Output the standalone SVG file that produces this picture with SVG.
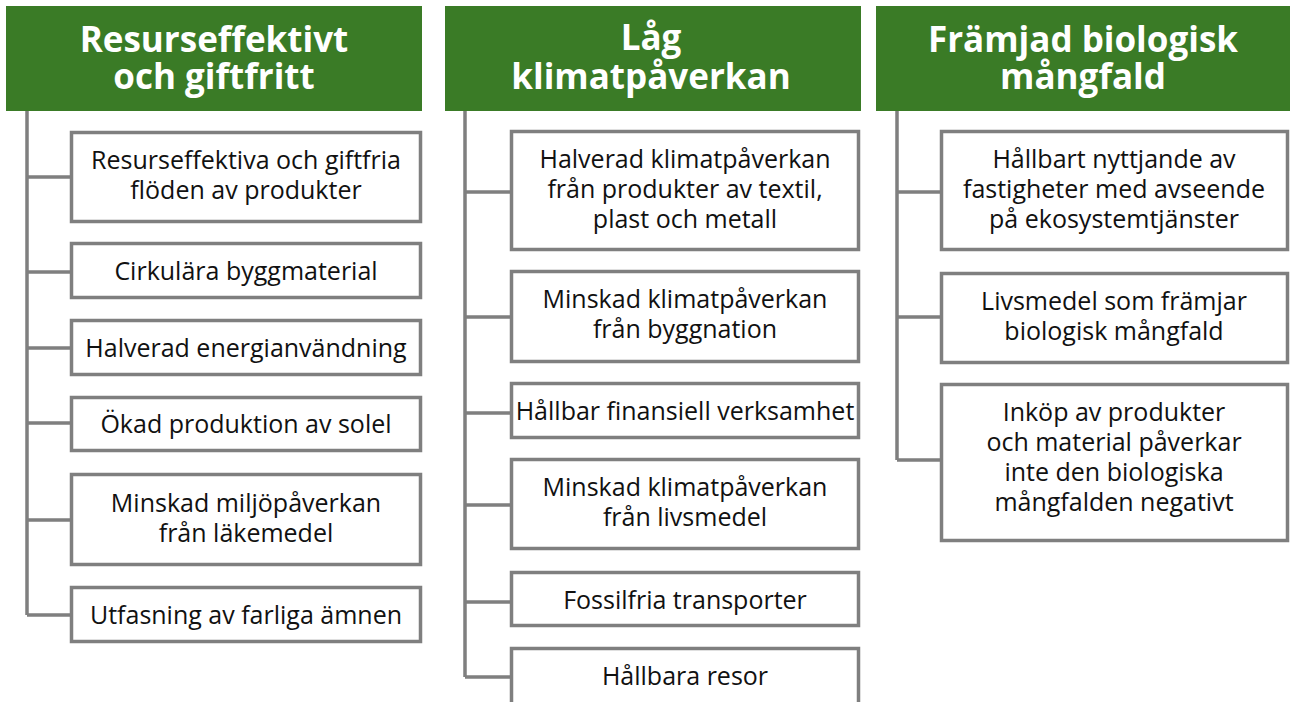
<svg xmlns="http://www.w3.org/2000/svg" width="1290" height="702" viewBox="0 0 1290 702">
<style>
.hdr{fill:#3a7b26}
.ht{font-family:"Open Sans","Liberation Sans",sans-serif;font-weight:bold;font-size:35px;fill:#fff;text-anchor:middle}
.box{fill:#fff;stroke:#7f7f7f;stroke-width:3.5}
.bt{font-family:"Open Sans","Liberation Sans",sans-serif;font-size:25px;fill:#111;text-anchor:middle}
.con{fill:none;stroke:#7f7f7f;stroke-width:3.5}
</style>
<rect width="1290" height="702" fill="#fff"/>
<g id="connectors" class="con">
<path d="M27 111V615M27 177H72M27 272H72M27 348H72M27 423H72M27 520H72M27 615H72"/>
<path d="M465 111V677M465 192H512M465 317H512M465 413H512M465 505H512M465 602H512M465 677H512"/>
<path d="M897 111V460M897 192H942M897 317H942M897 460H942"/>
</g>
<g id="h1"><rect class="hdr" x="6" y="6" width="416" height="105"/><text class="ht"><tspan x="214" y="52">Resurseffektivt</tspan><tspan x="214" y="89">och giftfritt</tspan></text></g>
<g id="h2"><rect class="hdr" x="445" y="6" width="416" height="105"/><text class="ht"><tspan x="651" y="50">Låg</tspan><tspan x="651" y="89">klimatpåverkan</tspan></text></g>
<g id="h3"><rect class="hdr" x="876" y="6" width="414" height="105"/><text class="ht"><tspan x="1083" y="52">Främjad biologisk</tspan><tspan x="1083" y="89">mångfald</tspan></text></g>

<g id="a1"><rect class="box" x="71.5" y="132.5" width="349" height="89"/><text class="bt"><tspan x="246" y="169">Resurseffektiva och giftfria</tspan><tspan x="246" y="199">flöden av produkter</tspan></text></g>
<g id="a2"><rect class="box" x="71.5" y="243.5" width="349" height="54"/><text class="bt" x="246" y="280">Cirkulära byggmaterial</text></g>
<g id="a3"><rect class="box" x="71.5" y="320.5" width="349" height="54"/><text class="bt" x="246" y="357">Halverad energianvändning</text></g>
<g id="a4"><rect class="box" x="71.5" y="397.5" width="349" height="53"/><text class="bt" x="246" y="433">Ökad produktion av solel</text></g>
<g id="a5"><rect class="box" x="71.5" y="474.5" width="349" height="90"/><text class="bt"><tspan x="246" y="512">Minskad miljöpåverkan</tspan><tspan x="246" y="542">från läkemedel</tspan></text></g>
<g id="a6"><rect class="box" x="71.5" y="587.5" width="349" height="54"/><text class="bt" x="246" y="624">Utfasning av farliga ämnen</text></g>

<g id="b1"><rect class="box" x="511.5" y="131.5" width="347" height="118"/><text class="bt"><tspan x="685" y="168">Halverad klimatpåverkan</tspan><tspan x="685" y="198">från produkter av textil,</tspan><tspan x="685" y="228">plast och metall</tspan></text></g>
<g id="b2"><rect class="box" x="511.5" y="271.5" width="347" height="90"/><text class="bt"><tspan x="685" y="308">Minskad klimatpåverkan</tspan><tspan x="685" y="338">från byggnation</tspan></text></g>
<g id="b3"><rect class="box" x="511.5" y="383.5" width="347" height="54"/><text class="bt" x="685" y="420">Hållbar finansiell verksamhet</text></g>
<g id="b4"><rect class="box" x="511.5" y="459.5" width="347" height="89"/><text class="bt"><tspan x="685" y="496">Minskad klimatpåverkan</tspan><tspan x="685" y="526">från livsmedel</tspan></text></g>
<g id="b5"><rect class="box" x="511.5" y="572.5" width="347" height="53"/><text class="bt" x="685" y="609">Fossilfria transporter</text></g>
<g id="b6"><rect class="box" x="511.5" y="648.5" width="347" height="70"/><text class="bt" x="685" y="685">Hållbara resor</text></g>

<g id="c1"><rect class="box" x="941.5" y="131.5" width="346" height="118"/><text class="bt"><tspan x="1114" y="168">Hållbart nyttjande av</tspan><tspan x="1114" y="198">fastigheter med avseende</tspan><tspan x="1114" y="228">på ekosystemtjänster</tspan></text></g>
<g id="c2"><rect class="box" x="941.5" y="273.5" width="346" height="89"/><text class="bt"><tspan x="1114" y="310">Livsmedel som främjar</tspan><tspan x="1114" y="340">biologisk mångfald</tspan></text></g>
<g id="c3"><rect class="box" x="941.5" y="384.5" width="346" height="156"/><text class="bt"><tspan x="1114" y="421">Inköp av produkter</tspan><tspan x="1114" y="451">och material påverkar</tspan><tspan x="1114" y="481">inte den biologiska</tspan><tspan x="1114" y="511">mångfalden negativt</tspan></text></g>
</svg>
